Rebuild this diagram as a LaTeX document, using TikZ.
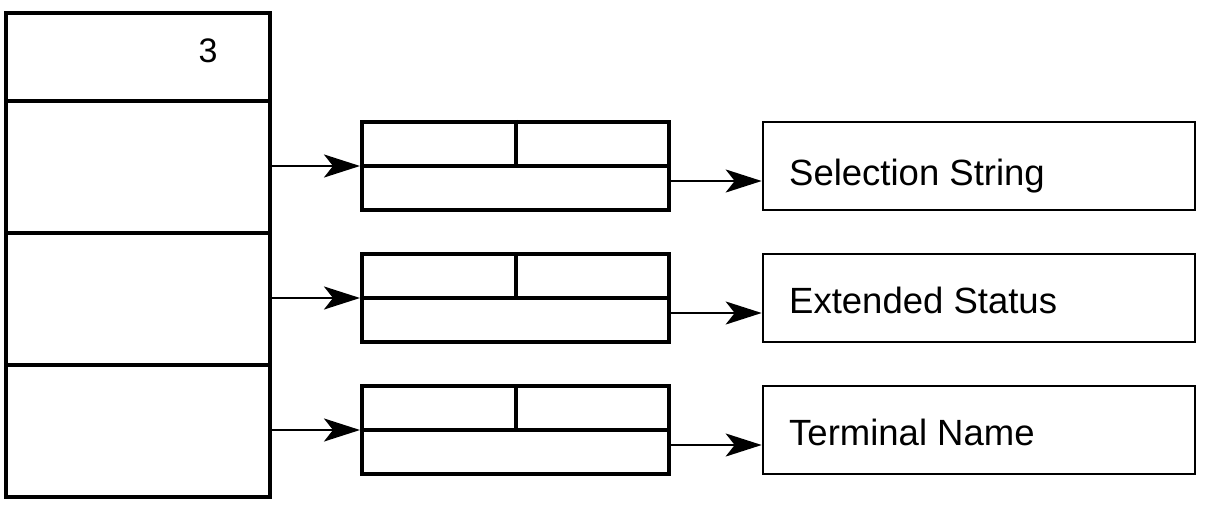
\documentclass[tikz,border=0pt]{standalone}
\usepackage{fontspec}
\setmainfont{Liberation Sans}
\usetikzlibrary{arrows.meta,calc}
\begin{document}
\begin{tikzpicture}[x=1pt,y=-1pt,
  cell/.style={draw,line width=4pt,inner sep=0pt,minimum width=264pt,anchor=north west},
  recbox/.style={draw,line width=4pt,inner sep=0pt,minimum width=307pt,minimum height=88pt,anchor=north west},
  strbox/.style={draw,line width=2.6pt,inner sep=0pt,minimum width=432pt,minimum height=88pt,anchor=north west},
  divline/.style={line width=4pt},
  lbl/.style={font=\fontsize{36.5}{40}\selectfont,inner sep=0pt,anchor=base west},
  arr/.style={line width=2.6pt,-{Stealth[length=36pt,width=23pt,inset=9pt]}}]
\useasboundingbox (0,0) rectangle (1210,516);
% left table
\node[cell,minimum height=88pt] (c0) at (4,11) {};
\node[cell,minimum height=132pt] (c1) at (4,99) {};
\node[cell,minimum height=132pt] (c2) at (4,231) {};
\node[cell,minimum height=132pt] (c3) at (4,363) {};
\node[font=\fontsize{34}{40}\selectfont,inner sep=0pt,anchor=base] (n3) at (208,63) {3};
% rows
\foreach \i/\t/\b/\s in {1/122/185/Selection String,2/254/313/Extended Status,3/386/445/Terminal Name}{
  \node[recbox] (r\i) at (360,\t-2) {};
  \draw[divline] (r\i.west) -- (r\i.east);
  \draw[divline] ($(r\i.north west)!0.5!(r\i.north east)$) -- ($(r\i.west)!0.5!(r\i.east)$);
  \node[strbox] (s\i) at (761.7,\t-1.3) {};
  \node[lbl] (t\i) at (789,\b) {\s};
  \draw[arr] (r\i.west -| c\i.east) -- (r\i.west);
  \draw[arr] ([yshift=-15pt]r\i.east) -- ([yshift=-15pt]r\i.east -| s\i.west);
}
\end{tikzpicture}
\end{document}
